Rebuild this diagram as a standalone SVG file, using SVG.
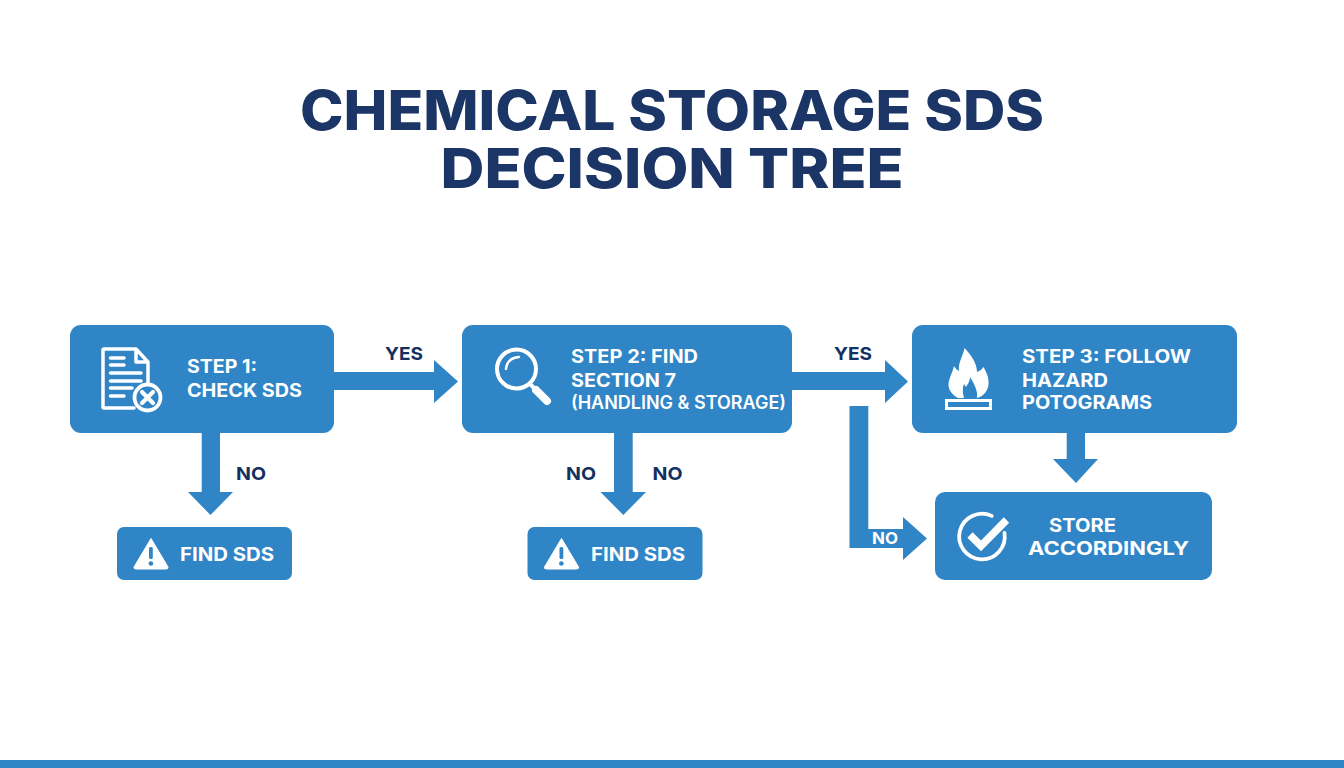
<svg xmlns="http://www.w3.org/2000/svg" width="1344" height="768" viewBox="0 0 1344 768">
<style>
text{font-family:Inter,"Liberation Sans",Arial,sans-serif;font-weight:700}
.title{font-size:55px;font-weight:800;fill:#1a3566;text-anchor:middle}
.box{fill:#2f85c6}
.t{font-size:18.5px;fill:#fff;font-weight:700}
.s{font-size:18px;fill:#fff;font-weight:600}
.l{font-size:18px;fill:#14305f}
.w{font-size:16.5px;fill:#fff}
.ln{fill:none;stroke:#fff;stroke-width:3.5;stroke-linecap:round;stroke-linejoin:round}
.ar{fill:#2f85c6}
.solid{fill:#fff}
</style>
<defs>
<g id="warn">
<path class="solid" d="M151 538.500L168 567Q168.500 569 166 569L136 569Q133.500 569 134 567Z" stroke="#fff" stroke-width="1" stroke-linejoin="round"/>
<rect class="ar" x="149" y="547" width="3.800" height="12" rx="1.500"/>
<circle class="ar" cx="150.900" cy="563.500" r="2.300"/>
</g>
</defs>
<rect width="1344" height="768" fill="#fff"/>
<rect class="ar" x="0" y="760" width="1344" height="8"/>
<g id="title">
<text class="title" x="672" y="130" textLength="744" lengthAdjust="spacingAndGlyphs">CHEMICAL STORAGE SDS</text>
<text class="title" x="672" y="188" textLength="463" lengthAdjust="spacingAndGlyphs">DECISION TREE</text>
</g>
<g id="connectors">
<path class="ar" d="M330 372H434V360L458 381.500L434 403V390H330Z"/>
<path class="ar" d="M201.700 430H220V492H233L210.500 515L188 492H201.700Z"/>
<path class="ar" d="M614 430H632.700V492H646L623.300 515L600.500 492H614Z"/>
<path class="ar" d="M788 372H885V360L908 381.500L885 403V390H788Z"/>
<path class="ar" d="M1066.700 430H1085V459H1098L1076 483L1053 459H1066.700Z"/>
<path class="ar" d="M849.500 406H868.300V529H903V517L927 538.500L903 560V548H849.500Z"/>
<text class="l" x="385" y="360" textLength="38" lengthAdjust="spacingAndGlyphs">YES</text>
<text class="l" x="834" y="360" textLength="38" lengthAdjust="spacingAndGlyphs">YES</text>
<text class="l" x="236" y="480" textLength="30" lengthAdjust="spacingAndGlyphs">NO</text>
<text class="l" x="566" y="480" textLength="30" lengthAdjust="spacingAndGlyphs">NO</text>
<text class="l" x="652.500" y="480" textLength="30" lengthAdjust="spacingAndGlyphs">NO</text>
<text class="w" x="872" y="544" textLength="26" lengthAdjust="spacingAndGlyphs">NO</text>
</g>
<g id="step1">
<rect class="box" x="70" y="325" width="264" height="108" rx="11"/>
<path class="ln" d="M136 349H104Q103 349 103 350V407Q103 408 104 408H134M136 349L148 362V384M136 350V362H147"/>
<path class="ln" d="M110.500 358H124M110.500 365H124M110.500 373H141M110.500 381H141M110.500 388H132M110.500 396H124"/>
<circle cx="147.500" cy="397.500" r="13" fill="#2f85c6" stroke="#fff" stroke-width="3.800"/>
<path d="M142 392L153 403M153 392L142 403" fill="none" stroke="#fff" stroke-width="4.200" stroke-linecap="round"/>
<text class="t" x="187" y="373" textLength="70" lengthAdjust="spacingAndGlyphs">STEP 1:</text>
<text class="t" x="187" y="396.500" textLength="115" lengthAdjust="spacingAndGlyphs">CHECK SDS</text>
</g>
<g id="step2">
<rect class="box" x="462" y="325" width="330" height="108" rx="11"/>
<circle cx="516.500" cy="369" r="19.500" fill="none" stroke="#fff" stroke-width="4"/>
<path d="M530 384L537 391" fill="none" stroke="#fff" stroke-width="4"/>
<path d="M536 390L547 401" fill="none" stroke="#fff" stroke-width="8" stroke-linecap="round"/>
<path d="M506 369Q507 358 519 357" fill="none" stroke="#fff" stroke-width="2.500" stroke-linecap="round"/>
<text class="t" x="571" y="362.500" textLength="127" lengthAdjust="spacingAndGlyphs">STEP 2: FIND</text>
<text class="t" x="571" y="386.500" textLength="105" lengthAdjust="spacingAndGlyphs">SECTION 7</text>
<text class="s" x="571" y="409" textLength="215" lengthAdjust="spacingAndGlyphs">(HANDLING &amp; STORAGE)</text>
</g>
<g id="step3">
<rect class="box" x="912" y="325" width="325" height="108" rx="11"/>
<path class="solid" d="M964.500 348C972 356 977 364 977 372C980 371 982 369 983.500 367C989 376 991 386 985 393C983 395 981 397 977 398C978 390 974 384 970 377C970 382 967 385 966 387L964 384C962 389 963 394 964 398H958C951 394 947 388 949 381C950 376 953 371 954 366C955 368 957 370 959 371C958 362 963 356 964.500 348Z"/>
<rect x="946.500" y="400.500" width="44" height="8" fill="none" stroke="#fff" stroke-width="3"/>
<text class="t" x="1022" y="362.500" textLength="169" lengthAdjust="spacingAndGlyphs">STEP 3: FOLLOW</text>
<text class="t" x="1022" y="386.500" textLength="86" lengthAdjust="spacingAndGlyphs">HAZARD</text>
<text class="t" x="1022" y="409" textLength="130" lengthAdjust="spacingAndGlyphs">POTOGRAMS</text>
</g>
<g id="store">
<rect class="box" x="935" y="492" width="277" height="88" rx="10"/>
<path d="M991.700 515.900A22.800 22.800 0 1 0 1004.500 533" fill="none" stroke="#fff" stroke-width="3.800" stroke-linecap="round"/>
<path d="M970 535L981 546L1006.500 520" fill="none" stroke="#fff" stroke-width="7.500"/>
<text class="t" x="1049" y="531.500" textLength="67" lengthAdjust="spacingAndGlyphs">STORE</text>
<text class="t" x="1028" y="555" textLength="161" lengthAdjust="spacingAndGlyphs">ACCORDINGLY</text>
</g>
<g id="find1">
<rect class="box" x="117" y="527" width="175" height="53" rx="7"/>
<use href="#warn"/>
<text class="t" x="180" y="560.500" textLength="94" lengthAdjust="spacingAndGlyphs">FIND SDS</text>
</g>
<g id="find2">
<rect class="box" x="527.500" y="527" width="175" height="53" rx="7"/>
<use href="#warn" x="410.500"/>
<text class="t" x="591" y="560.500" textLength="94" lengthAdjust="spacingAndGlyphs">FIND SDS</text>
</g>
</svg>
